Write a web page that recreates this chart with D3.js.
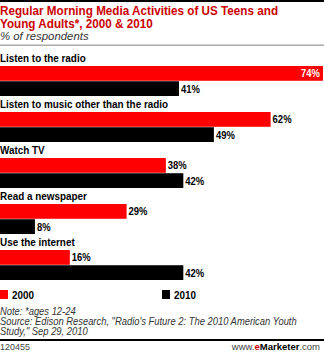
<!DOCTYPE html>
<html><head><meta charset="utf-8">
<script src="https://cdn.jsdelivr.net/npm/d3@7"></script>
<style>
html,body{margin:0;padding:0;background:#fff;}
svg{display:block;font-family:"Liberation Sans",Arial,sans-serif;}
</style></head>
<body>
<script>
const categories = ["Listen to the radio","Listen to music other than the radio","Watch TV","Read a newspaper","Use the internet"];
const series = ["2000","2010"];
const values2000 = [74,62,38,29,16];
const values2010 = [41,49,42,8,42];
const titleLines = ["Regular Morning Media Activities of US Teens and","Young Adults*, 2000 & 2010"];
const subtitle = "% of respondents";
const notes = ["Note: *ages 12-24","Source: Edison Research, \"Radio's Future 2: The 2010 American Youth","Study,\" Sep 29, 2010"];
const chartId = "120455";

const W = 324, H = 352;
const svg = d3.select("body").append("svg").attr("width",W).attr("height",H);
const colors = {"2000":"#ff0000","2010":"#000000"};

// horizontal squeeze via transform (keeps anchor x fixed)
function squeeze(sel, f){
  sel.each(function(){
    const s=d3.select(this); const x0=+s.attr("x");
    s.attr("x",x0/f).attr("transform",`scale(${f},1)`);
  });
}

svg.append("rect").attr("x",0).attr("y",0).attr("width",W).attr("height",2).attr("fill","#000");

const tl = svg.selectAll("text.title").data(titleLines).join("text")
  .attr("class","title").attr("x",0).attr("y",(d,i)=>15+i*13)
  .attr("font-size",12.2).attr("font-weight","bold").attr("fill","#cc0000").text(d=>d);
squeeze(tl,0.96);
const st = svg.append("text").attr("x",0).attr("y",40).attr("font-size",11.5).attr("font-style","italic").attr("fill","#333").text(subtitle);
squeeze(st,0.99);
svg.append("rect").attr("x",0).attr("y",44.5).attr("width",W).attr("height",1.5).attr("fill","#aaa");

const x = d3.scaleLinear().domain([0,74]).range([0,323]);
const y = d3.scaleBand().domain(categories).range([50,280]).paddingInner(0).paddingOuter(0);
const yi = d3.scaleBand().domain(series).range([16,46]).paddingInner(0.03);

const rows = categories.map((c,i)=>({cat:c, vals:[{s:"2000",v:values2000[i]},{s:"2010",v:values2010[i]}]}));
const g = svg.selectAll("g.grp").data(rows).join("g").attr("class","grp")
  .attr("transform",d=>`translate(0,${y(d.cat)})`);
const cl = g.append("text").attr("x",0).attr("y",12).attr("font-size",11.5).attr("font-weight","bold").attr("fill","#000").text(d=>d.cat);
squeeze(cl,0.86);
g.selectAll("rect.bar").data(d=>d.vals).join("rect").attr("class","bar")
  .attr("x",0).attr("y",d=>yi(d.s)).attr("width",d=>x(d.v)).attr("height",yi.bandwidth())
  .attr("fill",d=>colors[d.s]);
const vl = g.selectAll("text.val").data(d=>d.vals).join("text").attr("class","val")
  .attr("x",d=> x(d.v)>300 ? x(d.v)-3 : x(d.v)+2)
  .attr("text-anchor",d=> x(d.v)>300 ? "end":"start")
  .attr("y",d=>yi(d.s)+yi.bandwidth()/2+4)
  .attr("font-size",11).attr("font-weight","bold")
  .attr("fill",d=> x(d.v)>300 ? "#fff":"#000").text(d=>d.v+"%");
squeeze(vl,0.86);

// legend
const lg = svg.selectAll("g.leg").data(series).join("g").attr("class","leg")
  .attr("transform",(d,i)=>`translate(${i===0?0:162},290)`);
lg.append("rect").attr("width",8).attr("height",9).attr("fill",d=>colors[d]);
const lt = lg.append("text").attr("x",12).attr("y",9).attr("font-size",11.5).attr("font-weight","bold").text(d=>d);
squeeze(lt,0.86);

const nt = svg.selectAll("text.note").data(notes).join("text").attr("class","note")
  .attr("x",0).attr("y",(d,i)=>315+i*10).attr("font-size",10).attr("font-style","italic").attr("fill","#333").text(d=>d);
squeeze(nt,0.94);

svg.append("rect").attr("x",0).attr("y",339).attr("width",W).attr("height",2).attr("fill","#000");
svg.append("text").attr("x",0).attr("y",350).attr("font-size",9).attr("fill","#444").text(chartId);
const em = svg.append("text").attr("x",320).attr("y",350).attr("text-anchor","end").attr("font-size",9.5).attr("fill","#444");
em.append("tspan").text("www.");
em.append("tspan").attr("fill","#cc0000").attr("font-weight","bold").text("e");
em.append("tspan").attr("fill","#000").attr("font-weight","bold").text("Marketer");
em.append("tspan").text(".com");
</script>
</body></html>
